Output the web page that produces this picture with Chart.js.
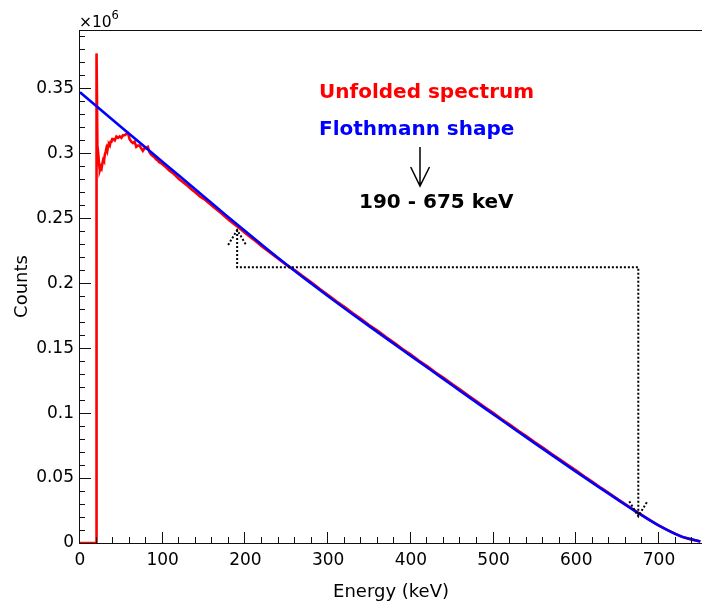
<!DOCTYPE html>
<html>
<head>
<meta charset="utf-8">
<script src="https://cdn.jsdelivr.net/npm/chart.js@4.4.0/dist/chart.umd.min.js"></script>
<style>
  html, body { margin: 0; padding: 0; background: #fff; }
  #wrap { width: 702px; height: 601px; }
</style>
</head>
<body>
<div id="wrap"><canvas id="spectrum" width="702" height="601"></canvas></div>
<script>
// energies in keV, counts in units of 10^6
const redEnergy = [0, 20, 20, 21, 22, 23, 24, 25, 26, 27, 28, 29, 30, 31, 32, 33, 34, 35, 36, 37, 38, 39, 40,
  42, 44, 46, 48, 50, 52, 54, 56, 58, 60, 62, 64, 66, 68, 70, 72, 74, 76, 78, 80, 82, 84, 86, 88, 90,
  92, 94, 96, 98, 100, 104, 108, 112, 116, 120, 125, 130, 135, 140, 145,
  150, 160, 170, 180, 190, 200, 210, 220, 230, 240, 250, 260, 270, 280, 290, 300, 310, 320, 330, 340,
  350, 360, 370, 380, 390, 400, 410, 420, 430, 440, 450, 460, 470, 480, 490, 500, 510, 520, 530, 540,
  550, 560, 570, 580, 590, 600, 610, 620, 630, 640, 650, 660, 670, 680, 690, 700, 710, 720, 730, 740, 750];
const redCounts = [0, 0, 0.377, 0.306, 0.300, 0.292, 0.287, 0.289, 0.288, 0.292, 0.295, 0.294, 0.299, 0.301, 0.304, 0.302, 0.306, 0.307, 0.306, 0.309, 0.309, 0.311, 0.311,
  0.310, 0.313, 0.312, 0.313, 0.312, 0.314, 0.314, 0.315, 0.3155, 0.311, 0.309, 0.308, 0.309, 0.305, 0.306, 0.306, 0.304, 0.302, 0.304, 0.304, 0.305, 0.301, 0.299, 0.298, 0.297,
  0.2955, 0.2945, 0.293, 0.2925, 0.2915, 0.2893, 0.2868, 0.2850, 0.2825, 0.2800, 0.2775, 0.2750, 0.2722, 0.2697, 0.2668,
  0.2648, 0.2594, 0.2543, 0.2487, 0.2438, 0.2385, 0.2336, 0.2283, 0.2235, 0.2187, 0.2140, 0.2100, 0.2052, 0.2006, 0.1956, 0.1910, 0.1861, 0.1817, 0.1768, 0.1724,
  0.1676, 0.1633, 0.1585, 0.1541, 0.1494, 0.1451, 0.1403, 0.1361, 0.1313, 0.1270, 0.1223, 0.1180, 0.1133, 0.1090, 0.1043, 0.1000, 0.0953, 0.0910, 0.0864, 0.0821,
  0.0775, 0.0733, 0.0687, 0.0645, 0.0600, 0.0557, 0.0512, 0.0470, 0.0424, 0.0382, 0.0338, 0.0295, 0.0253, 0.0212, 0.0172, 0.0133, 0.0101, 0.0070, 0.0043, 0.0026, 0.0011];

const blueEnergy = [0, 25, 50, 75, 100, 125, 150, 175, 200, 225, 250, 275, 300, 325, 350, 375, 400,
  425, 450, 475, 500, 525, 550, 575, 600, 625, 650, 675, 700, 725, 750];
const blueCounts = [0.3470, 0.3336, 0.3202, 0.3068, 0.2934, 0.2800, 0.2666, 0.2532, 0.2400, 0.2270, 0.2143, 0.2020, 0.1900, 0.1783, 0.1668, 0.1554, 0.1441,
  0.1328, 0.1215, 0.1102, 0.0990, 0.0878, 0.0767, 0.0657, 0.0548, 0.0440, 0.0334, 0.0230, 0.0133, 0.0055, 0.0012];

const xMajor = [0, 100, 200, 300, 400, 500, 600, 700];
const yMajor = [0, 0.05, 0.1, 0.15, 0.2, 0.25, 0.3, 0.35];
const xMinorStep = 20;
const yMinorStep = 0.01;

// fit window 190 - 675 keV
const rangeEnergy = [190, 675];
const rangeTip = [0.241, 0.0205];
const rangeBar = 0.2123;

const FONT = '"DejaVu Sans", sans-serif';

function pts(xs, ys) {
  return xs.map((v, i) => ({ x: v, y: ys[i] }));
}

const rootFrame = {
  id: 'rootFrame',
  afterDatasetsDraw(chart) {
    const { ctx, scales: { x, y } } = chart;
    const xa = x.getPixelForValue(rangeEnergy[0]);
    const xb = x.getPixelForValue(rangeEnergy[1]);
    const ya = y.getPixelForValue(rangeTip[0]);
    const yb = y.getPixelForValue(rangeTip[1]);
    const ybar = y.getPixelForValue(rangeBar);
    ctx.save();
    ctx.strokeStyle = '#000';
    ctx.lineWidth = 2;
    ctx.setLineDash([2, 2]);
    ctx.beginPath();
    ctx.moveTo(xa, ya); ctx.lineTo(xa, ybar); ctx.lineTo(xb, ybar); ctx.lineTo(xb, yb);
    ctx.stroke();
    ctx.beginPath();
    ctx.moveTo(xa - 9, ya + 15); ctx.lineTo(xa, ya); ctx.lineTo(xa + 9, ya + 15);
    ctx.moveTo(xb - 9, yb - 15); ctx.lineTo(xb, yb); ctx.lineTo(xb + 9, yb - 15);
    ctx.stroke();
    ctx.restore();
  },
  afterDraw(chart) {
    const { ctx, chartArea: a, scales: { x, y } } = chart;
    const left = Math.round(a.left) - 1;
    const bottom = Math.round(a.bottom);
    ctx.save();
    ctx.fillStyle = '#111';

    // frame
    ctx.fillRect(left, Math.round(a.top), Math.ceil(a.right) - left, 1);
    ctx.fillRect(left, Math.round(a.top), 1, bottom - Math.round(a.top) + 1);
    ctx.fillRect(left, bottom, Math.ceil(a.right) - left, 1);

    // ticks, drawn inward like ROOT
    for (let i = 0; i * xMinorStep <= x.max; i++) {
      const v = i * xMinorStep;
      const px = Math.round(x.getPixelForValue(v)) - 1;
      const len = xMajor.includes(v) ? 11 : 6;
      ctx.fillRect(px, bottom - len, 1, len);
    }
    for (let i = 0; i * yMinorStep <= y.max; i++) {
      const v = i * yMinorStep;
      const py = Math.round(y.getPixelForValue(v));
      const len = i % 5 === 0 ? 12 : 6;
      ctx.fillRect(left, py, len, 1);
    }

    // exponent label
    ctx.fillStyle = '#000';
    ctx.textBaseline = 'alphabetic';
    ctx.textAlign = 'left';
    ctx.font = '15.5px ' + FONT;
    ctx.fillText('\u00d710', 79, 27);
    ctx.font = '11.5px ' + FONT;
    ctx.fillText('6', 111.5, 18.5);

    // annotations
    ctx.font = 'bold 20px ' + FONT;
    ctx.fillStyle = '#ff0000';
    ctx.fillText('Unfolded spectrum', 319, 98);
    ctx.fillStyle = '#0000ff';
    ctx.fillText('Flothmann shape', 319, 135);
    ctx.fillStyle = '#000';
    ctx.fillText('190 - 675 keV', 359, 208);

    ctx.lineWidth = 1.5;
    ctx.strokeStyle = '#000';
    ctx.setLineDash([]);
    ctx.beginPath();
    ctx.moveTo(420, 147); ctx.lineTo(420, 186);
    ctx.moveTo(410.7, 167); ctx.lineTo(420, 186); ctx.lineTo(429.5, 167);
    ctx.stroke();
    ctx.restore();
  }
};

new Chart(document.getElementById('spectrum'), {
  type: 'line',
  data: {
    datasets: [{
      label: 'Flothmann shape',
      data: pts(blueEnergy, blueCounts),
      borderColor: '#0000ff',
      borderWidth: 2.6,
      pointRadius: 0,
      cubicInterpolationMode: 'monotone',
      order: 0
    }, {
      label: 'Unfolded spectrum',
      data: pts(redEnergy, redCounts),
      borderColor: '#ff0000',
      borderWidth: 2.6,
      pointRadius: 0,
      tension: 0,
      order: 1
    }]
  },
  options: {
    responsive: false,
    animation: false,
    devicePixelRatio: 1,
    layout: { padding: { top: 30, right: 0, left: 0, bottom: 0 } },
    plugins: { legend: { display: false }, tooltip: { enabled: false } },
    scales: {
      x: {
        type: 'linear',
        min: 0,
        max: 752,
        grid: { display: false, drawTicks: false },
        border: { display: false },
        ticks: {
          stepSize: 20,
          autoSkip: false,
          maxRotation: 0,
          includeBounds: false,
          padding: 7,
          color: '#000',
          font: { family: FONT, size: 17 },
          callback: v => xMajor.includes(v) ? String(v) : ''
        },
        title: {
          display: true,
          text: 'Energy (keV)',
          color: '#000',
          font: { family: FONT, size: 18 },
          padding: { top: 0, bottom: -2 }
        },
        afterFit: s => { s.height = 58; }
      },
      y: {
        min: 0,
        max: 0.395,
        grid: { display: false, drawTicks: false },
        border: { display: false },
        ticks: {
          stepSize: 0.01,
          autoSkip: false,
          includeBounds: false,
          padding: 6,
          color: '#000',
          font: { family: FONT, size: 17 },
          callback: v => {
            const r = Math.round(v * 100);
            return yMajor.some(m => Math.abs(m * 100 - r) < 1e-6) ? String(r / 100) : '';
          }
        },
        title: {
          display: true,
          text: 'Counts',
          color: '#000',
          font: { family: FONT, size: 18 },
          padding: { top: 12, bottom: 0 }
        },
        afterFit: s => { s.width = 80; }
      }
    }
  },
  plugins: [rootFrame]
});
</script>
</body>
</html>
